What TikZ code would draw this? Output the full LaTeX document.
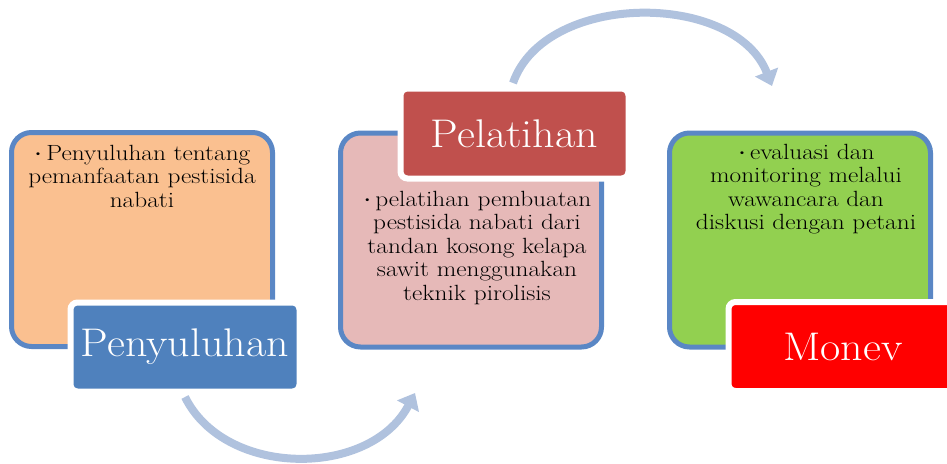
\documentclass[tikz,border=0pt]{standalone}
\usepackage{fontspec}
\newfontfamily\bodyfont{Latin Modern Roman}[FakeStretch=1.15]
\newfontfamily\titlefont{Latin Modern Roman}[FakeStretch=1.1]
\usetikzlibrary{arrows.meta}
\definecolor{bordblue}{HTML}{5A87C5}
\definecolor{orangefill}{HTML}{FAC090}
\definecolor{pinkfill}{HTML}{E6B9B8}
\definecolor{greenfill}{HTML}{92D050}
\definecolor{labblue}{HTML}{4F81BD}
\definecolor{labred}{HTML}{C0504D}
\definecolor{monred}{HTML}{FF0000}
\definecolor{arrowblue}{HTML}{B0C2DE}
\tikzset{
  mainbox/.style={draw=bordblue, line width=5pt, rounded corners=20pt, minimum width=261pt, minimum height=214pt, inner sep=0pt},
  labelbox/.style={draw=white, line width=6pt, rounded corners=7pt, inner sep=0pt, text=white, font=\titlefont\fontsize{40}{44}\selectfont},
  bodytext/.style={anchor=north, align=center, inner sep=0pt, font=\bodyfont\fontsize{22}{23.4}\selectfont},
  cyc/.style={draw=arrowblue, line width=8pt, -{Triangle[width=24pt,length=15pt]}},
}
\newcommand{\bul}{{\fontsize{10}{10}\selectfont\raisebox{4pt}{\textbullet}}\,}
\begin{document}
\begin{tikzpicture}[x=1pt,y=-1pt]
\path[use as bounding box] (0,0) rectangle (947,463);
\clip (0,0) rectangle (947,463);
% arrows
\coordinate (a1s) at (185,397);
\coordinate (a1e) at (415,393);
\coordinate (a2s) at (513,83);
\coordinate (a2e) at (772,86);
\draw[cyc] (a1s) .. controls (225,478) and (370,478) .. (a1e);
\draw[cyc] (a2s) .. controls (545,-9) and (735,-9) .. (a2e);
% main boxes
\node[mainbox, fill=orangefill] (b1) at (142,239.5) {};
\node[mainbox, fill=pinkfill] (b2) at (471,240) {};
\node[mainbox, fill=greenfill] (b3) at (800,240) {};
% body texts
\node[bodytext] (t1) at (142,145) {\bul Penyuluhan tentang\\ pemanfaatan pestisida\\ nabati};
\node[bodytext] (t2) at (477,191) {\bul pelatihan pembuatan\\ pestisida nabati dari\\ tandan kosong kelapa\\ sawit menggunakan\\ teknik pirolisis};
\node[bodytext] (t3) at (806,144) {\bul evaluasi dan\\ monitoring melalui\\ wawancara dan\\ diskusi dengan petani};
% labels
\node[labelbox, fill=labblue, minimum width=229pt, minimum height=89pt] (l1) at (185,347) {Penyuluhan};
\node[labelbox, fill=labred, minimum width=228pt, minimum height=90pt] (l2) at (514.5,133.5) {Pelatihan};
\node[labelbox, fill=monred, minimum width=229pt, minimum height=89pt] (l3) at (843,346.5) {Monev};
\end{tikzpicture}
\end{document}
